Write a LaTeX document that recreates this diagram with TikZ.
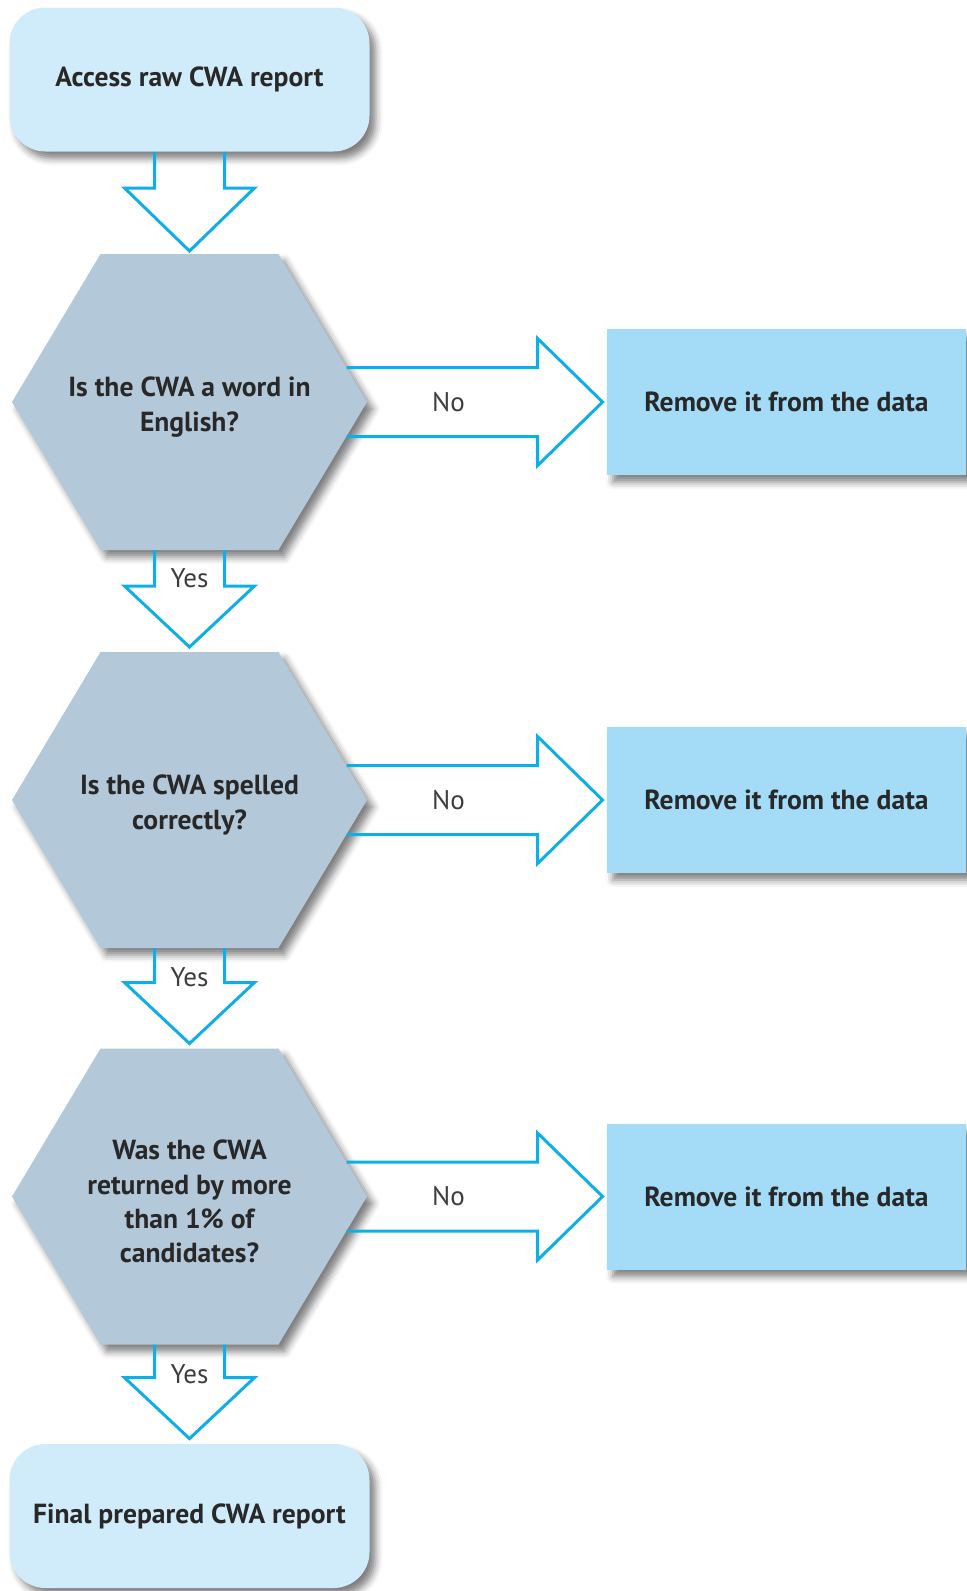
\documentclass[tikz,border=0pt]{standalone}
\usepackage{fontspec}
\setmainfont{PT Sans}
\usetikzlibrary{calc,shadows.blur}
\definecolor{arrowc}{RGB}{16,174,230}
\definecolor{roundc}{RGB}{208,235,249}
\definecolor{hexc}{RGB}{179,200,217}
\definecolor{boxc}{RGB}{164,220,247}
\definecolor{txtc}{RGB}{40,40,40}
\begin{document}
\begin{tikzpicture}[x=0.5pt,y=-0.5pt,
  shd/.style={blur shadow={shadow xshift=3pt,shadow yshift=-3.5pt,shadow blur radius=3.5pt,shadow opacity=50}},
  endbox/.style={shd,fill=roundc,rounded corners=18pt,minimum width=180pt,minimum height=72pt,
    text=txtc,font=\fontsize{13.8}{17}\selectfont\bfseries,inner sep=0pt},
  hexshape/.style={shd,fill=hexc},
  qtext/.style={text=txtc,font=\fontsize{13.8}{17.1}\selectfont\bfseries,align=center,inner sep=0pt},
  rembox/.style={shd,fill=boxc,minimum width=179.5pt,minimum height=73pt,
    text=txtc,font=\fontsize{13.8}{17}\selectfont\bfseries,inner sep=0pt},
  blockarrow/.style={draw=arrowc,line width=1.5pt,line join=miter},
  lbl/.style={text=txtc!90,font=\fontsize{13.5}{14}\selectfont,inner sep=0pt}]
\useasboundingbox (0,0) rectangle (966,1591);

% start and end boxes
\node[endbox] (start) at (189.5,79.5) {Access raw CWA report};
\node[endbox] (final) at (189.5,1516) {Final prepared CWA report};

% question centres
\coordinate (c1) at (189.5,402);
\coordinate (c2) at (189.5,800);
\coordinate (c3) at (189.5,1196.5);

% hexagons
\foreach \c in {c1,c2,c3}{
  \path[hexshape] ($(\c)+(-177.5,0)$) -- ($(\c)+(-89,-148)$) -- ($(\c)+(89,-148)$)
    -- ($(\c)+(177.5,0)$) -- ($(\c)+(89,148)$) -- ($(\c)+(-89,148)$) -- cycle;
}
\node[qtext] (q1) at ($(c1)+(0,5)$) {Is the CWA a word in\\English?};
\node[qtext] (q2) at ($(c2)+(0,5)$) {Is the CWA spelled\\correctly?};
\node[qtext] (q3) at ($(c3)+(0,5)$) {Was the CWA\\returned by more\\than 1\% of\\candidates?};

\coordinate (q1top) at ($(c1)+(0,-148)$);
\coordinate (q1bot) at ($(c1)+(0,148)$);
\coordinate (q2top) at ($(c2)+(0,-148)$);
\coordinate (q2bot) at ($(c2)+(0,148)$);
\coordinate (q3top) at ($(c3)+(0,-148)$);
\coordinate (q3bot) at ($(c3)+(0,148)$);

% remove boxes
\node[rembox] (r1) at (786.5,402) {Remove it from the data};
\node[rembox] (r2) at (786.5,800) {Remove it from the data};
\node[rembox] (r3) at (786.5,1196.5) {Remove it from the data};

% down arrows
\draw[blockarrow] ($(start.south)+(-35,0)$) |- ($(q1top)+(-65,-66)$) -- ($(q1top)+(0,-3)$)
  -- ($(q1top)+(65,-66)$) -| ($(start.south)+(35,0)$);
\draw[blockarrow] ($(q1bot)+(-35,0)$) |- ($(q2top)+(-65,-66)$) -- ($(q2top)+(0,-5)$)
  -- ($(q2top)+(65,-66)$) -| ($(q1bot)+(35,0)$);
\draw[blockarrow] ($(q2bot)+(-35,0)$) |- ($(q3top)+(-65,-66)$) -- ($(q3top)+(0,-5)$)
  -- ($(q3top)+(65,-66)$) -| ($(q2bot)+(35,0)$);
\draw[blockarrow] ($(q3bot)+(-35,0)$) |- ($(final.north)+(-65,-66)$) -- ($(final.north)+(0,-5)$)
  -- ($(final.north)+(65,-66)$) -| ($(q3bot)+(35,0)$);

\node[lbl] (y1) at ($(q1bot)+(0,28)$) {Yes};
\node[lbl] (y2) at ($(q2bot)+(0,29)$) {Yes};
\node[lbl] (y3) at ($(q3bot)+(0,30)$) {Yes};

% right arrows
\foreach \c/\r/\n in {c1/r1/n1,c2/r2/n2,c3/r3/n3}{
  \draw[blockarrow] ($(\c)+(157,-34.5)$) -- ($(\r.west)+(-69,-34.5)$) -- ($(\r.west)+(-69,-63.5)$)
    -- ($(\r.west)+(-4,0)$) -- ($(\r.west)+(-69,63.5)$) -- ($(\r.west)+(-69,34.5)$)
    -- ($(\c)+(157,34.5)$);
  \node[lbl] (\n) at ($(\c)+(259,0)$) {No};
}
\end{tikzpicture}
\end{document}
